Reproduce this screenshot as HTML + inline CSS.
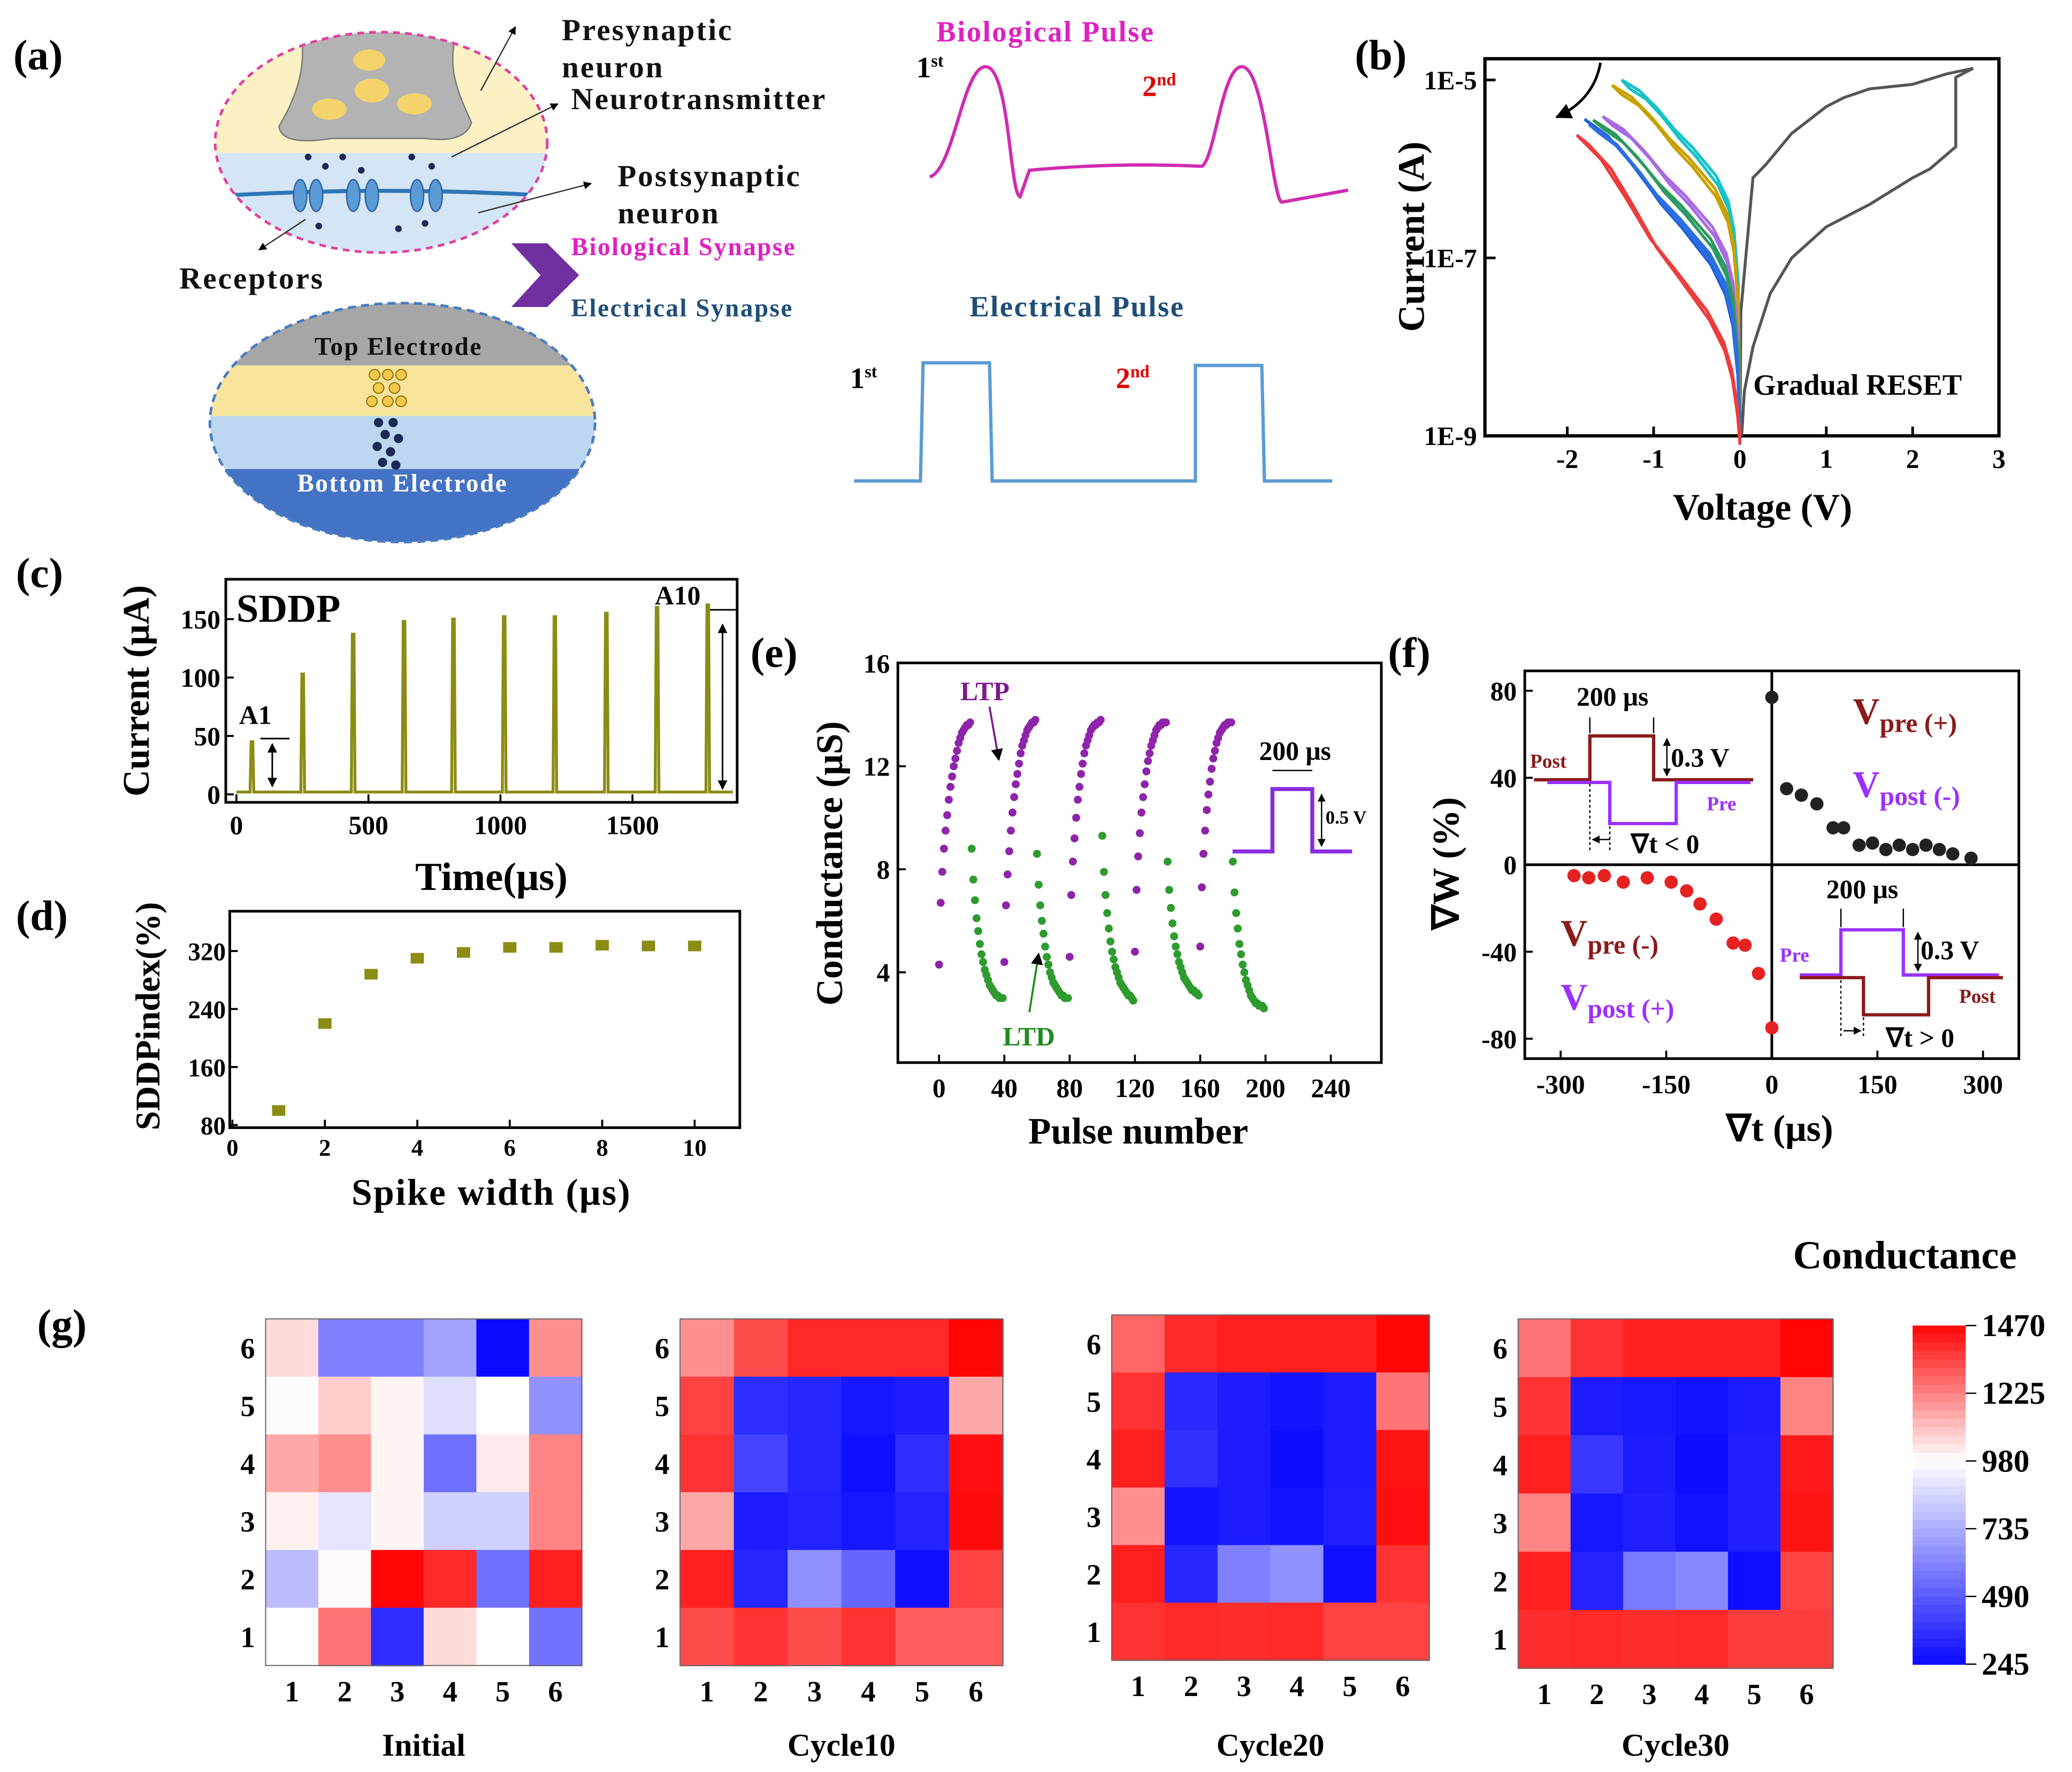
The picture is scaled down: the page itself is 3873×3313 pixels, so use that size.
<!DOCTYPE html>
<html><head><meta charset="utf-8">
<style>
html,body{margin:0;padding:0;background:#fff;}
svg{display:block;font-family:"Liberation Serif",serif;font-weight:bold;}
</style></head>
<body>
<svg id="fig" xmlns="http://www.w3.org/2000/svg" width="3873" height="3313" viewBox="0 0 1560 1334">
<defs>
<clipPath id="clipTop"><ellipse cx="287" cy="107" rx="125" ry="83"/></clipPath>
<clipPath id="clipBot"><ellipse cx="303" cy="318" rx="145" ry="90"/></clipPath>
<marker id="arr" viewBox="0 0 10 10" refX="9" refY="5" markerWidth="6" markerHeight="6" orient="auto-start-reverse"><path d="M0,0L10,5L0,10z" fill="#000"/></marker>
</defs>
<rect width="1560" height="1334" fill="#fff"/>

<!-- Panel a -->
<g>
<text x="10" y="52" font-size="32">(a)</text>
<g clip-path="url(#clipTop)">
<rect x="160" y="20" width="260" height="95" fill="#fbf1c4"/>
<rect x="160" y="115" width="260" height="80" fill="#d4e5f5"/>
<path d="M225,20 L345,20 C335,50 345,70 355,92 Q350,108 320,104 L250,104 Q212,110 210,95 C225,70 232,45 225,20z" fill="#b3b3b3" stroke="#777"/>
<ellipse cx="278" cy="45" rx="12" ry="8" fill="#f5d36b"/><ellipse cx="280" cy="68" rx="13" ry="9" fill="#f5d36b"/>
<ellipse cx="248" cy="82" rx="13" ry="8" fill="#f5d36b"/><ellipse cx="312" cy="78" rx="13" ry="8" fill="#f5d36b"/>
<path d="M170,147 Q290,140 410,147" stroke="#2e75b6" stroke-width="3" fill="none"/>
<ellipse cx="226" cy="147" rx="5" ry="12" fill="#5b9bd5" stroke="#2e5f9e"/><ellipse cx="238" cy="147" rx="5" ry="12" fill="#5b9bd5" stroke="#2e5f9e"/>
<ellipse cx="266" cy="147" rx="5" ry="12" fill="#5b9bd5" stroke="#2e5f9e"/><ellipse cx="280" cy="147" rx="5" ry="12" fill="#5b9bd5" stroke="#2e5f9e"/>
<ellipse cx="314" cy="147" rx="5" ry="12" fill="#5b9bd5" stroke="#2e5f9e"/><ellipse cx="328" cy="147" rx="5" ry="12" fill="#5b9bd5" stroke="#2e5f9e"/>
<g fill="#1a2a55"><circle cx="232" cy="118" r="2.5"/><circle cx="245" cy="125" r="2.5"/><circle cx="258" cy="118" r="2.5"/><circle cx="272" cy="128" r="2.5"/><circle cx="310" cy="118" r="2.5"/><circle cx="325" cy="125" r="2.5"/><circle cx="240" cy="170" r="2.5"/><circle cx="300" cy="172" r="2.5"/><circle cx="320" cy="168" r="2.5"/></g>
</g>
<ellipse cx="287" cy="107" rx="125" ry="83" fill="none" stroke="#e040a0" stroke-width="2" stroke-dasharray="5,4"/>
<g stroke="#333" stroke-width="1" fill="none">
<path d="M362,68 L388,20" marker-end="url(#arr)"/><path d="M340,118 L420,78" marker-end="url(#arr)"/>
<path d="M360,160 L445,138" marker-end="url(#arr)"/><path d="M230,165 L195,188" marker-end="url(#arr)"/>
</g>
<g font-size="23" letter-spacing="1.2" fill="#111">
<text x="423" y="30">Presynaptic</text><text x="423" y="58">neuron</text>
<text x="430" y="82">Neurotransmitter</text>
<text x="465" y="140">Postsynaptic</text><text x="465" y="168">neuron</text>
<text x="135" y="217">Receptors</text>
</g>
<path d="M385,183 L412,183 L436,207 L412,231 L385,231 L407,207z" fill="#7030a0"/>
<text x="430" y="192" font-size="19" fill="#e020c0" letter-spacing="1">Biological Synapse</text>
<text x="430" y="238" font-size="19" fill="#1f4e79" letter-spacing="1">Electrical Synapse</text>
<text x="705" y="31" font-size="22" fill="#e020c0" letter-spacing="1">Biological Pulse</text>
<text x="730" y="238" font-size="22" fill="#1f4e79" letter-spacing="1">Electrical Pulse</text>
<text x="690" y="58" font-size="22">1<tspan font-size="13" dy="-8">st</tspan></text>
<text x="860" y="72" font-size="22" fill="#e00000">2<tspan font-size="13" dy="-8">nd</tspan></text>
<path d="M700,133 C718,128 725,50 742,50 C760,50 760,145 768,148 L775,128 Q840,122 905,125 C915,118 920,50 935,50 C952,50 958,150 965,152 L1015,143" fill="none" stroke="#d02cb0" stroke-width="2.5"/>
<path d="M643,362 L693,362 L695,273 L745,273 L747,362 L900,362 L900,275 L950,275 L952,362 L1003,362" fill="none" stroke="#5b9bd5" stroke-width="2.5"/>
<text x="640" y="292" font-size="22">1<tspan font-size="13" dy="-8">st</tspan></text>
<text x="840" y="292" font-size="22" fill="#e00000">2<tspan font-size="13" dy="-8">nd</tspan></text>
<g clip-path="url(#clipBot)">
<rect x="150" y="225" width="310" height="50" fill="#a6a6a6"/>
<rect x="150" y="275" width="310" height="38" fill="#f8e39a"/>
<rect x="150" y="313" width="310" height="40" fill="#bcd7ef"/>
<rect x="150" y="353" width="310" height="60" fill="#4472c4"/>
</g>
<ellipse cx="303" cy="318" rx="145" ry="90" fill="none" stroke="#4a7cc0" stroke-width="2" stroke-dasharray="6,4"/>
<g fill="#f2c94c" stroke="#8a6d00" stroke-width="0.8">
<circle cx="282" cy="282" r="4"/><circle cx="292" cy="282" r="4"/><circle cx="302" cy="282" r="4"/>
<circle cx="285" cy="292" r="4"/><circle cx="297" cy="292" r="4"/><circle cx="280" cy="302" r="4"/><circle cx="292" cy="302" r="4"/><circle cx="302" cy="302" r="4"/>
</g>
<g fill="#1a2a55">
<circle cx="285" cy="318" r="3.5"/><circle cx="296" cy="318" r="3.5"/><circle cx="290" cy="327" r="3.5"/><circle cx="300" cy="330" r="3.5"/>
<circle cx="284" cy="336" r="3.5"/><circle cx="294" cy="340" r="3.5"/><circle cx="288" cy="348" r="3.5"/><circle cx="298" cy="350" r="3.5"/>
</g>
<text x="300" y="267" font-size="19" text-anchor="middle" fill="#111" letter-spacing="1">Top Electrode</text>
<text x="303" y="370" font-size="19" text-anchor="middle" fill="#fff" letter-spacing="1">Bottom Electrode</text>
</g>

<!-- Panel b -->
<g id="pb">
<text x="1020" y="52" font-size="32">(b)</text>
<rect x="1118" y="44" width="387" height="284" fill="none" stroke="#000" stroke-width="2.5"/>
<text transform="translate(1072,178) rotate(-90)" text-anchor="middle" font-size="28">Current (A)</text>
<text x="1327" y="391" text-anchor="middle" font-size="28">Voltage (V)</text>
<text x="1320" y="297" font-size="22">Gradual RESET</text>
<path d="M1205,47 Q1200,75 1172,88" fill="none" stroke="#000" stroke-width="2" marker-end="url(#arr)"/>
</g>

<!-- Panel c -->
<g id="pc">
<text x="12" y="442" font-size="32">(c)</text>
<rect x="170" y="436" width="385" height="168" fill="none" stroke="#000" stroke-width="2"/>
<text x="178" y="468" font-size="30">SDDP</text>
<text x="180" y="545" font-size="20">A1</text>
<text x="493" y="455" font-size="20">A10</text>
<text transform="translate(112,520) rotate(-90)" text-anchor="middle" font-size="28">Current (μA)</text>
<text x="370" y="670" text-anchor="middle" font-size="30">Time(μs)</text>
<path d="M196,556 L218,556" stroke="#000" stroke-width="1.2" fill="none"/>
<path d="M205,560 L205,592" stroke="#000" stroke-width="1.2" marker-start="url(#arr)" marker-end="url(#arr)" fill="none"/>
<path d="M533,459 L556,459" stroke="#000" stroke-width="1.2" fill="none"/>
<path d="M544,470 L544,594" stroke="#000" stroke-width="1.2" fill="none" marker-start="url(#arr)" marker-end="url(#arr)"/>
</g>

<!-- Panel d -->
<g id="pd">
<text x="12" y="700" font-size="32">(d)</text>
<rect x="173" y="686" width="384" height="163" fill="none" stroke="#000" stroke-width="2"/>
<text transform="translate(120,765) rotate(-90)" text-anchor="middle" font-size="26">SDDPindex(%)</text>
<text x="370" y="907" text-anchor="middle" font-size="28" letter-spacing="1">Spike width (μs)</text>
</g>

<!-- Panel e -->
<g id="pe">
<text x="565" y="502" font-size="32">(e)</text>
<rect x="676" y="499" width="364" height="301" fill="none" stroke="#000" stroke-width="2"/>
<text transform="translate(634,650) rotate(-90)" text-anchor="middle" font-size="28">Conductance (μS)</text>
<text x="857" y="861" text-anchor="middle" font-size="28">Pulse number</text>
<text x="723" y="527" font-size="20" fill="#7b1a8c">LTP</text>
<path d="M745,532 L752,572" stroke="#7b1a8c" stroke-width="1.5" marker-end="url(#arr)"/>
<text x="755" y="787" font-size="20" fill="#1e8c1e">LTD</text>
<path d="M775,762 L782,718" stroke="#1e8c1e" stroke-width="1.5" marker-end="url(#arr)"/>
<path d="M928,641 L958,641 L958,594 L988,594 L988,641 L1018,641" fill="none" stroke="#8a2be2" stroke-width="3"/>
<text x="948" y="572" font-size="20">200 μs</text>
<path d="M958,580 L988,580" stroke="#000" stroke-width="1"/>
<path d="M995,598 L995,637" stroke="#000" stroke-width="1" marker-start="url(#arr)" marker-end="url(#arr)"/>
<text x="998" y="620" font-size="14">0.5 V</text>
</g>

<!-- Panel f -->
<g id="pf">
<text x="1045" y="502" font-size="32">(f)</text>
<rect x="1148" y="505" width="372" height="292" fill="none" stroke="#000" stroke-width="2"/>
<path d="M1334,505 L1334,797 M1148,651 L1520,651" stroke="#000" stroke-width="2"/>
<text transform="translate(1098,650) rotate(-90)" text-anchor="middle" font-size="28">∇W (%)</text>
<text x="1340" y="859" text-anchor="middle" font-size="28">∇t (μs)</text>
<text x="1395" y="545" font-size="28" fill="#8b1a1a">V<tspan font-size="20" dy="6">pre (+)</tspan></text>
<text x="1395" y="600" font-size="28" fill="#9b30ff">V<tspan font-size="20" dy="6">post (-)</tspan></text>
<text x="1175" y="712" font-size="28" fill="#8b1a1a">V<tspan font-size="20" dy="6">pre (-)</tspan></text>
<text x="1175" y="760" font-size="28" fill="#9b30ff">V<tspan font-size="20" dy="6">post (+)</tspan></text>
<path d="M1155,587 L1197,587 L1197,554 L1245,554 L1245,587 L1320,587" fill="none" stroke="#8b1a1a" stroke-width="2.5"/>
<path d="M1165,589 L1212,589 L1212,620 L1262,620 L1262,589 L1318,589" fill="none" stroke="#9b30ff" stroke-width="2.5"/>
<text x="1152" y="578" font-size="15" fill="#8b1a1a">Post</text>
<text x="1285" y="610" font-size="15" fill="#9b30ff">Pre</text>
<text x="1187" y="531" font-size="20">200 μs</text>
<path d="M1197,540 L1197,552 M1245,540 L1245,552" stroke="#000"/>
<path d="M1255,556 L1255,584" stroke="#000" marker-start="url(#arr)" marker-end="url(#arr)"/>
<text x="1258" y="577" font-size="20">0.3 V</text>
<path d="M1197,590 L1197,640 M1212,622 L1212,640" stroke="#000" stroke-dasharray="2,2"/>
<path d="M1199,632 L1212,632" stroke="#000" marker-start="url(#arr)"/>
<text x="1228" y="642" font-size="20">∇t &lt; 0</text>
<path d="M1355,734 L1386,734 L1386,700 L1433,700 L1433,734 L1505,734" fill="none" stroke="#9b30ff" stroke-width="2.5"/>
<path d="M1355,736 L1403,736 L1403,764 L1452,764 L1452,736 L1508,736" fill="none" stroke="#8b1a1a" stroke-width="2.5"/>
<text x="1340" y="724" font-size="15" fill="#9b30ff">Pre</text>
<text x="1475" y="755" font-size="15" fill="#8b1a1a">Post</text>
<text x="1375" y="676" font-size="20">200 μs</text>
<path d="M1386,684 L1386,698 M1433,684 L1433,698" stroke="#000"/>
<path d="M1444,702 L1444,731" stroke="#000" marker-start="url(#arr)" marker-end="url(#arr)"/>
<text x="1446" y="722" font-size="20">0.3 V</text>
<path d="M1386,738 L1386,782 M1403,766 L1403,782" stroke="#000" stroke-dasharray="2,2"/>
<path d="M1388,776 L1401,776" stroke="#000" marker-end="url(#arr)"/>
<text x="1420" y="788" font-size="20">∇t &gt; 0</text>
</g>

<!-- Panel g -->
<g id="pg">
<text x="28" y="1008" font-size="32">(g)</text>
<text x="1350" y="955" font-size="30">Conductance</text>
</g>
</svg>

<script>
const NS='http://www.w3.org/2000/svg';
const svg=document.getElementById('fig');
function mk(tag,attrs,parent,text){const e=document.createElementNS(NS,tag);for(const k in attrs)e.setAttribute(k,attrs[k]);if(text!==undefined)e.textContent=text;(parent||svg).appendChild(e);return e;}

// ---------- Panel b data ----------
const ivPeakV=[-1.37,-1.48,-1.59,-1.7,-1.8,-1.75,-1.89];
const ivPeakLog=[-5.0,-5.06,-5.41,-5.45,-5.44,-5.5,-5.62];
const ivBend=[1,1.1,1.35,1.5,1.8,1.7,2.8];
const ivColors=['#17c2c8','#c9a000','#a66be0','#2c9a60','#1f5fd6','#2b6fe0','#ee3b3b'];
const ivFrac=[0,0.015,0.05,0.1,0.2,0.4,0.55,0.7,0.85,1];
const ivShape=[0,0.43,0.58,0.66,0.73,0.81,0.86,0.92,0.97,1];
const grayV=[0,0.01,0.15,0.3,0.6,1,1.2,1.5,2,2.4,2.7,2.5,2.5,2.2,2,1.5,1,0.6,0.35,0.15,0.05,0.02];
const grayLog=[-9,-7.6,-6.1,-5.95,-5.6,-5.3,-5.2,-5.1,-5.05,-4.93,-4.87,-4.97,-5.75,-6.0,-6.1,-6.4,-6.65,-7.0,-7.4,-8.0,-8.5,-9];
const bX=v=>1310+v*65, bY=l=>60+(-5-l)*67;
const pb=document.getElementById('pb');
const bXTicks=[-2,-1,0,1,2,3];
bXTicks.forEach(v=>{
  const t=mk('line',{x1:bX(v),x2:bX(v),y1:328,y2:321,stroke:'#000','stroke-width':2},pb);
  
  
  const l=mk('text',{x:bX(v),y:352,'text-anchor':'middle','font-size':20},pb,String(v));
  
  
});
const bYTicks=[-5,-7,-9], bYLabels=['1E-5','1E-7','1E-9'];
bYTicks.forEach((v,i)=>{
  const t=mk('line',{x1:1118,x2:1126,y1:bY(v),y2:bY(v),stroke:'#000','stroke-width':2},pb);
  
  
  const l=mk('text',{x:1112,y:bY(v)+7,'text-anchor':'end','font-size':20},pb,bYLabels[i]);
  
  
});
{
  const d=grayV.map((v,i)=>(i?'L':'M')+bX(v).toFixed(1)+','+bY(grayLog[i]).toFixed(1)).join('');
  const p=mk('path',{d:d,fill:'none',stroke:'#555','stroke-width':2.2},pb);
  
  
}
ivPeakV.forEach((vp,k)=>{
  const lp=ivPeakLog[k], bend=ivBend[k];
  let pts=ivFrac.map((f,i)=>[vp*f,-9+(lp+9)*Math.pow(ivShape[i],bend)]);
  let back=ivFrac.slice().reverse().map((f,i)=>{const j=ivFrac.length-1-i;return [vp*f*0.93,-9+(lp+9)*Math.pow(ivShape[j],bend)-0.1];});
  pts=pts.concat(back);
  const d=pts.map((p,i)=>(i?'L':'M')+bX(p[0]).toFixed(1)+','+bY(p[1]).toFixed(1)).join('');
  const p=mk('path',{d:d,fill:'none',stroke:ivColors[k],'stroke-width':2.2},pb);
  
  
});

// ---------- Panel c data ----------
const spikeTimes=[60,252,443,636,823,1015,1207,1402,1594,1786];
const spikeAmps=[45,103,137,148,150,152,152,155,160,162];
const cXTicks=[0,500,1000,1500];
const cYTicks=[0,50,100,150];
const cX=t=>178+t*0.1988, cY=v=>598-v*0.88;
const pc=document.getElementById('pc');
cXTicks.forEach(v=>{
  mk('line',{x1:cX(v),x2:cX(v),y1:604,y2:598,stroke:'#000','stroke-width':1.5},pc);
  const l=mk('text',{x:cX(v),y:628,'text-anchor':'middle','font-size':20},pc,String(v));
  
  
});
cYTicks.forEach(v=>{
  mk('line',{x1:170,x2:176,y1:cY(v),y2:cY(v),stroke:'#000','stroke-width':1.5},pc);
  const l=mk('text',{x:166,y:cY(v)+7,'text-anchor':'end','font-size':20},pc,String(v));
  
  
});
{
  let d='M'+cX(0)+','+cY(2);
  spikeTimes.forEach((t,i)=>{
    d+='L'+cX(t-8).toFixed(1)+','+cY(2)+'L'+cX(t-4).toFixed(1)+','+cY(spikeAmps[i]).toFixed(1)+'L'+cX(t+2).toFixed(1)+','+cY(spikeAmps[i]).toFixed(1)+'L'+cX(t+6).toFixed(1)+','+cY(2);
  });
  d+='L'+cX(1880)+','+cY(2);
  const p=mk('path',{d:d,fill:'none',stroke:'#8c8c14','stroke-width':2.2},pc);
  
  
}

// ---------- Panel d data ----------
const widths=[1,2,3,4,5,6,7,8,9,10];
const sddpIndex=[100,220,288,310,318,325,325,328,327,327];
const dXTicks=[0,2,4,6,8,10];
const dYTicks=[80,160,240,320];
const dX=w=>175+w*34.8, dY=v=>847-(v-80)*0.546;
const pd=document.getElementById('pd');
dXTicks.forEach(v=>{
  mk('line',{x1:dX(v),x2:dX(v),y1:849,y2:843,stroke:'#000','stroke-width':1.5},pd);
  const l=mk('text',{x:dX(v),y:870,'text-anchor':'middle','font-size':18},pd,String(v));
  
  
});
dYTicks.forEach(v=>{
  mk('line',{x1:173,x2:179,y1:dY(v),y2:dY(v),stroke:'#000','stroke-width':1.5},pd);
  const l=mk('text',{x:170,y:dY(v)+7,'text-anchor':'end','font-size':19},pd,String(v));
  
  
});
widths.forEach((w,i)=>{
  const r=mk('rect',{x:dX(w)-5,y:dY(sddpIndex[i])-4,width:10,height:8,fill:'#8c8c14'},pd);
  
  
});

// ---------- Panel e data ----------
const ltpCycles=[
 [4.3,6.7,7.9,8.8,9.5,10.1,10.7,11.2,11.6,12.0,12.3,12.6,12.9,13.1,13.3,13.4,13.5,13.6,13.6,13.7],
 [4.4,6.6,7.8,8.7,9.5,10.2,10.8,11.3,11.7,12.1,12.5,12.8,13.0,13.2,13.4,13.5,13.6,13.7,13.7,13.8],
 [4.6,7.0,8.3,9.2,10.0,10.7,11.2,11.7,12.1,12.5,12.8,13.0,13.2,13.4,13.5,13.6,13.6,13.7,13.7,13.8],
 [4.8,7.2,8.5,9.4,10.2,10.8,11.3,11.8,12.2,12.5,12.8,13.0,13.2,13.4,13.5,13.6,13.6,13.7,13.7,13.7],
 [5.0,7.3,8.6,9.5,10.3,10.9,11.4,11.9,12.3,12.6,12.9,13.1,13.3,13.4,13.5,13.6,13.6,13.7,13.7,13.7]];
const ltdCycles=[
 [8.8,7.6,6.8,6.1,5.6,5.1,4.7,4.4,4.1,3.9,3.7,3.5,3.4,3.3,3.2,3.1,3.1,3.0,3.0,3.0],
 [8.6,7.4,6.6,6.0,5.5,5.0,4.6,4.3,4.0,3.8,3.6,3.5,3.4,3.3,3.2,3.1,3.1,3.0,3.0,3.0],
 [9.3,7.9,7.0,6.3,5.7,5.2,4.8,4.5,4.2,4.0,3.8,3.6,3.5,3.4,3.3,3.2,3.1,3.1,3.0,2.9],
 [8.3,7.2,6.5,5.9,5.4,5.0,4.7,4.4,4.2,4.0,3.8,3.7,3.6,3.5,3.4,3.3,3.3,3.2,3.2,3.1],
 [8.3,7.1,6.3,5.7,5.1,4.7,4.3,4.0,3.7,3.5,3.3,3.1,3.0,2.9,2.8,2.8,2.7,2.7,2.7,2.6]];
const eXTicks=[0,40,80,120,160,200,240];
const eYTicks=[4,8,12,16];
const eX=n=>707+n*1.229, eY=v=>732-(v-4)*19.4;
const pe=document.getElementById('pe');
eXTicks.forEach(v=>{
  mk('line',{x1:eX(v),x2:eX(v),y1:800,y2:794,stroke:'#000','stroke-width':1.5},pe);
  const l=mk('text',{x:eX(v),y:826,'text-anchor':'middle','font-size':20},pe,String(v));
  
  
});
eYTicks.forEach(v=>{
  mk('line',{x1:676,x2:682,y1:eY(v),y2:eY(v),stroke:'#000','stroke-width':1.5},pe);
  const l=mk('text',{x:670,y:eY(v)+7,'text-anchor':'end','font-size':20},pe,String(v));
  
  
});
ltpCycles.forEach((cyc,c)=>{
  cyc.forEach((v,i)=>{
    const n=c*40+i;
    const p=mk('circle',{cx:eX(n),cy:eY(v),r:3,fill:'#8e24aa'},pe);
    
    
  });
  ltdCycles[c].forEach((v,i)=>{
    const n=c*40+20+i;
    const p=mk('circle',{cx:eX(n),cy:eY(v),r:3,fill:'#2e9b2e'},pe);
    
    
  });
});

// ---------- Panel f data ----------
const ltpDt=[0,21,42,64,87,102,124,143,162,181,200,219,238,257,283];
const ltpDw=[77,35,32,28,17,17,9,10,7,9,7,9,7,5,3];
const ltdDt=[0,-281,-260,-238,-211,-177,-143,-121,-102,-79,-55,-38,-19];
const ltdDw=[-75,-5,-6,-5,-8,-6,-8,-12,-18,-25,-36,-37,-50];
const fXTicks=[-300,-150,0,150,300];
const fYTicks=[-80,-40,0,40,80];
const fX=t=>1334+t*0.53, fY=v=>651-v*1.6375;
const pf=document.getElementById('pf');
fXTicks.forEach(v=>{
  mk('line',{x1:fX(v),x2:fX(v),y1:797,y2:791,stroke:'#000','stroke-width':1.5},pf);
  const l=mk('text',{x:fX(v),y:823,'text-anchor':'middle','font-size':20},pf,String(v));
  
  
});
fYTicks.forEach(v=>{
  mk('line',{x1:1148,x2:1154,y1:fY(v),y2:fY(v),stroke:'#000','stroke-width':1.5},pf);
  const l=mk('text',{x:1142,y:fY(v)+7,'text-anchor':'end','font-size':20},pf,String(v));
  
  
});
ltpDt.forEach((t,i)=>{
  const p=mk('circle',{cx:fX(t),cy:fY(ltpDw[i]),r:5,fill:'#222'},pf);
  
  
});
ltdDt.forEach((t,i)=>{
  const p=mk('circle',{cx:fX(t),cy:fY(ltdDw[i]),r:5,fill:'#e52222'},pf);
  
  
});

// ---------- Panel g data ----------
const mapNames=['Initial','Cycle10','Cycle20','Cycle30'];
const mapInitial=[
 [1050,600,600,700,245,1200],[970,1080,1000,880,980,650],[1150,1200,1000,550,1020,1220],
 [1010,900,1000,840,840,1220],[780,990,1470,1400,550,1420],[980,1250,350,1050,980,560]];
const mapCycle10=[
 [1200,1330,1400,1400,1400,1470],[1350,350,330,280,300,1150],[1380,420,330,260,350,1450],
 [1150,300,320,280,320,1460],[1420,330,650,520,260,1350],[1330,1380,1330,1380,1300,1300]];
const mapCycle20=[
 [1280,1400,1420,1420,1420,1470],[1380,340,300,270,300,1250],[1420,360,300,250,300,1440],
 [1200,270,300,270,310,1450],[1420,330,600,650,260,1380],[1380,1400,1390,1400,1350,1350]];
const mapCycle30=[
 [1250,1380,1420,1420,1420,1470],[1380,300,290,270,300,1220],[1420,380,300,250,310,1430],
 [1220,280,310,270,310,1440],[1420,320,580,620,260,1350],[1390,1400,1390,1400,1360,1360]];
const allMaps=[mapInitial,mapCycle10,mapCycle20,mapCycle30];
const axisNums=['1','2','3','4','5','6'];
const cbTicks=[1470,1225,980,735,490,245];
const boxes=[[200,993,238,261],[512,993,243,261],[837,990,239,260],[1143,993,237,263]];
const pg=document.getElementById('pg');
function cmap(v){
  const t=Math.max(0,Math.min(1,(v-245)/(1470-245)));
  if(t<0.6){const s=t/0.6;return 'rgb('+Math.round(10+245*s)+','+Math.round(10+245*s)+',255)';}
  const s=(t-0.6)/0.4;return 'rgb(255,'+Math.round(255-250*s)+','+Math.round(255-250*s)+')';
}
allMaps.forEach((m,k)=>{
  const [bx,by,bw,bh]=boxes[k];
  const cw=bw/6,ch=bh/6;
  m.forEach((row,r)=>row.forEach((v,c)=>{
    const cell=mk('rect',{x:(bx+c*cw).toFixed(2),y:(by+r*ch).toFixed(2),width:(cw+0.6).toFixed(2),height:(ch+0.6).toFixed(2),fill:cmap(v)},pg);
    
    
  }));
  mk('rect',{x:bx,y:by,width:bw,height:bh,fill:'none',stroke:'#666','stroke-width':0.8},pg);
  axisNums.forEach((s,i)=>{
    const xl=mk('text',{x:bx+(i+0.5)*cw,y:by+bh+27,'text-anchor':'middle','font-size':22},pg,s);
    
    
    const yl=mk('text',{x:bx-8,y:by+bh-(i+0.5)*ch+8,'text-anchor':'end','font-size':22},pg,s);
    
    
  });
  const t=mk('text',{x:bx+bw/2,y:1322,'text-anchor':'middle','font-size':24},pg,mapNames[k]);
  
  
});
{
  const cbx=1440,cby=998,cbw=40,cbh=255,steps=40;
  for(let i=0;i<steps;i++){
    const v=1470-(i+0.5)*(1225/steps);
    const r=mk('rect',{x:cbx,y:(cby+i*cbh/steps).toFixed(2),width:cbw,height:(cbh/steps+0.5).toFixed(2),fill:cmap(v)},pg);
    
    
  }
  cbTicks.forEach(v=>{
    const y=cby+(1470-v)/1225*cbh;
    mk('line',{x1:cbx+cbw,x2:cbx+cbw+8,y1:y,y2:y,stroke:'#000','stroke-width':1},pg);
    const l=mk('text',{x:cbx+cbw+12,y:y+8,'font-size':24},pg,String(v));
    
    
  });
}
</script>
</body></html>
